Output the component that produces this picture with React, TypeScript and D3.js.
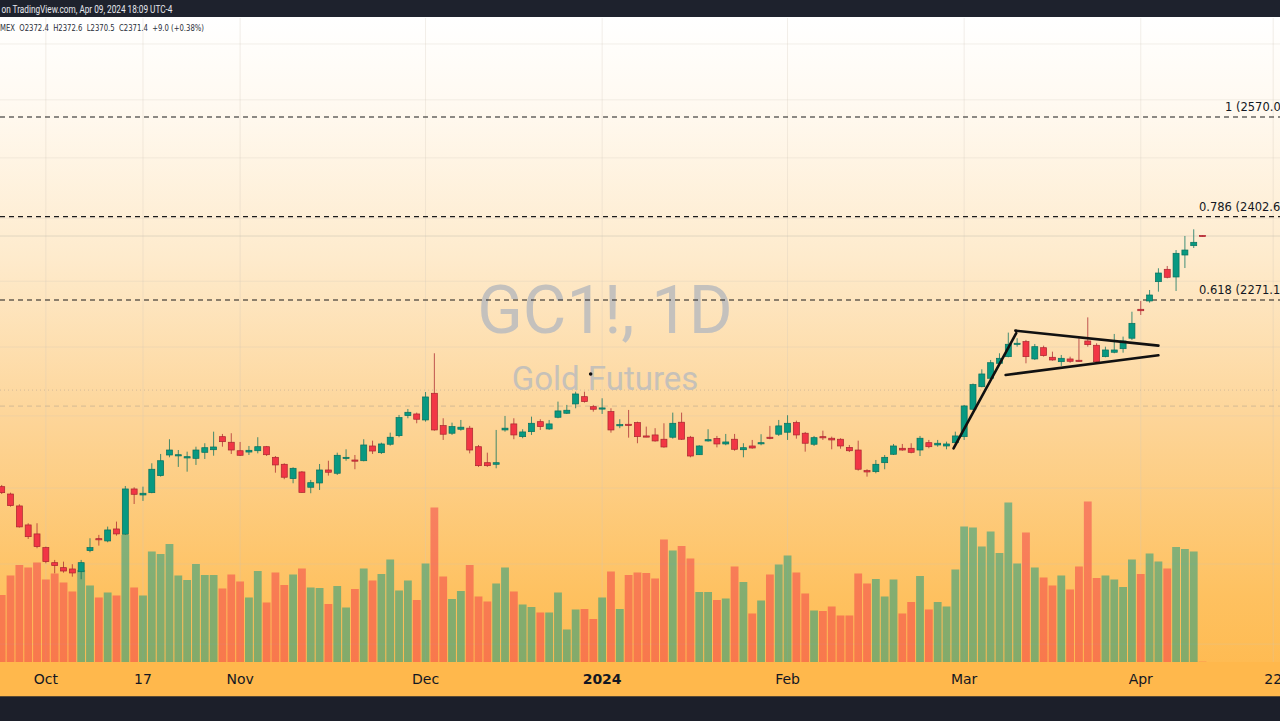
import React from 'react';
import * as d3 from 'd3';

const W = 1280;
const H = 721;

// Daily OHLC, GC1! (bar index 0 = Sep 25 2023 ... 136 = Apr 10 2024)
const opens = [
  2002.0, 1992.1, 1976.1, 1950.9, 1939.1, 1921.2, 1901.8, 1895.4, 1893.7, 1890.2,
  1917.3, 1932.9, 1929.9, 1945.6, 1938.7, 1998.9, 1990.8, 1993.9, 2017.0, 2045.3,
  2044.9, 2041.2, 2040.7, 2049.0, 2052.6, 2070.8, 2063.0, 2051.2, 2049.4, 2051.2,
  2056.8, 2042.1, 2032.5, 2012.9, 2022.0, 2001.2, 2007.0, 2024.7, 2020.2, 2041.2,
  2038.4, 2037.4, 2057.8, 2048.5, 2060.2, 2072.2, 2100.4, 2102.8, 2094.3, 2132.4,
  2086.3, 2075.6, 2081.2, 2082.7, 2056.8, 2034.7, 2032.5, 2080.2, 2088.7, 2070.8,
  2077.8, 2091.9, 2081.6, 2098.1, 2103.8, 2117.1, 2127.5, 2113.2, 2110.4, 2106.1,
  2086.9, 2088.2, 2090.5, 2071.8, 2073.2, 2067.2, 2070.0, 2091.1, 2070.0, 2045.7,
  2064.8, 2068.4, 2060.6, 2067.2, 2052.6, 2057.8, 2061.6, 2070.0, 2074.2, 2077.0,
  2090.5, 2075.6, 2060.2, 2070.8, 2068.6, 2067.2, 2055.7, 2052.2, 2023.8, 2022.4,
  2034.7, 2046.3, 2054.6, 2054.6, 2052.2, 2062.4, 2059.2, 2057.8, 2062.4, 2070.8,
  2109.5, 2141.9, 2154.1, 2176.0, 2185.8, 2204.6, 2208.1, 2182.4, 2199.1, 2184.9,
  2178.4, 2182.4, 2180.5, 2209.1, 2202.7, 2185.8, 2192.3, 2197.6, 2213.2, 2256.9,
  2269.6, 2299.4, 2318.7, 2306.7, 2341.2, 2356.0, 2372.4,
];
const highs = [
  2004.3, 1993.9, 1978.3, 1953.1, 1953.1, 1922.5, 1905.3, 1903.1, 1899.8, 1905.3,
  1933.4, 1937.8, 1948.7, 1955.3, 2002.9, 2001.2, 2002.0, 2033.9, 2046.7, 2067.2,
  2052.2, 2049.9, 2056.8, 2061.6, 2077.8, 2074.6, 2075.6, 2063.4, 2057.8, 2070.0,
  2057.8, 2043.9, 2033.9, 2028.4, 2023.3, 2011.1, 2032.9, 2037.4, 2048.5, 2053.2,
  2045.3, 2067.2, 2065.2, 2062.4, 2076.4, 2101.4, 2109.9, 2104.7, 2134.2, 2190.8,
  2096.7, 2090.5, 2094.3, 2085.9, 2059.2, 2048.5, 2080.2, 2100.0, 2096.7, 2081.2,
  2099.0, 2095.3, 2094.3, 2120.4, 2115.7, 2134.7, 2134.7, 2115.7, 2125.2, 2110.9,
  2095.3, 2108.5, 2091.9, 2084.9, 2082.7, 2089.6, 2104.7, 2104.7, 2071.8, 2058.8,
  2081.2, 2071.8, 2074.6, 2074.6, 2061.6, 2066.2, 2074.2, 2085.9, 2094.3, 2101.0,
  2093.3, 2077.4, 2071.8, 2079.2, 2070.8, 2068.6, 2059.2, 2065.2, 2025.7, 2038.4,
  2045.3, 2060.6, 2060.6, 2061.6, 2071.8, 2066.2, 2066.2, 2063.8, 2077.8, 2115.7,
  2146.5, 2167.2, 2180.9, 2190.8, 2221.6, 2213.2, 2210.6, 2204.6, 2202.1, 2193.2,
  2188.3, 2185.8, 2213.2, 2244.6, 2205.7, 2200.6, 2219.6, 2215.6, 2253.2, 2269.6,
  2286.5, 2320.3, 2323.9, 2349.1, 2371.5, 2382.2, 2372.6,
];
const lows = [
  1992.1, 1975.1, 1947.4, 1932.5, 1920.4, 1901.0, 1888.2, 1889.0, 1883.9, 1880.6,
  1915.2, 1923.8, 1928.2, 1936.8, 1937.8, 1978.7, 1982.8, 1993.1, 2015.6, 2042.1,
  2028.9, 2022.4, 2031.6, 2039.8, 2044.3, 2056.8, 2046.7, 2043.9, 2045.3, 2047.6,
  2043.9, 2021.0, 2012.1, 2006.6, 1993.9, 1993.1, 1997.5, 2017.0, 2017.9, 2037.4,
  2025.7, 2036.6, 2046.7, 2046.7, 2058.2, 2070.0, 2096.7, 2089.6, 2091.9, 2079.2,
  2066.2, 2073.2, 2079.2, 2047.6, 2028.9, 2028.9, 2027.0, 2077.8, 2067.2, 2068.6,
  2073.2, 2080.2, 2080.2, 2096.7, 2102.8, 2110.9, 2119.0, 2106.1, 2102.8, 2076.4,
  2082.7, 2069.4, 2061.6, 2070.0, 2063.8, 2055.4, 2068.0, 2066.2, 2042.1, 2045.3,
  2063.8, 2055.9, 2058.8, 2051.2, 2042.1, 2054.0, 2058.8, 2067.2, 2071.8, 2066.2,
  2068.0, 2049.9, 2057.8, 2066.2, 2053.2, 2054.0, 2049.4, 2023.8, 2015.6, 2020.2,
  2025.7, 2045.3, 2051.2, 2047.6, 2043.9, 2054.6, 2056.8, 2053.2, 2060.6, 2066.2,
  2108.5, 2141.0, 2152.6, 2175.0, 2184.9, 2200.6, 2176.0, 2180.9, 2185.8, 2179.9,
  2172.1, 2176.9, 2178.4, 2200.6, 2176.9, 2184.9, 2190.8, 2191.7, 2210.6, 2248.2,
  2267.0, 2283.9, 2304.6, 2285.0, 2320.7, 2352.3, 2370.5,
];
const closes = [
  1993.9, 1976.5, 1948.3, 1935.5, 1922.5, 1903.1, 1898.0, 1891.1, 1888.6, 1901.8,
  1921.2, 1932.1, 1944.3, 1939.1, 1998.9, 1991.7, 1993.1, 2025.7, 2037.4, 2052.2,
  2045.7, 2043.0, 2052.2, 2055.4, 2056.4, 2063.8, 2052.2, 2044.9, 2051.8, 2056.8,
  2045.7, 2031.6, 2014.8, 2027.0, 1994.2, 2007.4, 2024.7, 2021.6, 2044.9, 2042.1,
  2037.0, 2059.2, 2050.8, 2060.6, 2070.0, 2097.6, 2105.2, 2095.3, 2127.1, 2080.2,
  2074.2, 2084.9, 2084.1, 2052.2, 2030.6, 2030.6, 2034.7, 2082.7, 2073.2, 2077.4,
  2089.6, 2084.9, 2088.7, 2107.1, 2108.1, 2131.4, 2120.4, 2109.5, 2111.4, 2080.2,
  2087.7, 2086.9, 2070.8, 2070.4, 2064.8, 2056.4, 2089.6, 2067.2, 2043.9, 2057.8,
  2066.6, 2060.6, 2063.4, 2053.2, 2055.4, 2055.0, 2062.4, 2068.6, 2085.9, 2089.6,
  2073.2, 2061.6, 2069.4, 2069.4, 2066.2, 2057.8, 2051.2, 2025.7, 2022.0, 2032.5,
  2042.1, 2057.8, 2052.2, 2049.0, 2068.6, 2056.8, 2061.6, 2060.6, 2071.8, 2114.2,
  2144.9, 2160.4, 2176.9, 2183.4, 2204.2, 2205.7, 2185.8, 2200.6, 2187.3, 2180.9,
  2183.4, 2179.0, 2179.4, 2203.6, 2178.4, 2195.7, 2195.7, 2209.1, 2235.6, 2254.7,
  2278.8, 2312.9, 2306.2, 2343.9, 2349.1, 2361.4, 2371.4,
];
// Volume, thousands of contracts
const volumes = [
  134, 173, 194, 189, 199, 165, 177, 159, 141, 184,
  153, 129, 139, 133, 254, 149, 133, 221, 216, 236,
  173, 164, 196, 174, 174, 147, 175, 161, 129, 182,
  119, 179, 154, 175, 187, 149, 148, 116, 152, 109,
  146, 187, 163, 176, 205, 143, 163, 124, 197, 309,
  171, 126, 142, 194, 131, 121, 157, 189, 141, 115,
  110, 99, 99, 139, 65, 105, 106, 86, 129, 181,
  106, 174, 179, 178, 167, 245, 223, 232, 207, 140,
  140, 124, 127, 191, 160, 97, 123, 175, 195, 213,
  179, 137, 103, 102, 111, 93, 93, 177, 157, 166,
  131, 165, 97, 120, 172, 105, 120, 111, 185, 271,
  269, 231, 261, 218, 319, 197, 259, 189, 169, 153,
  173, 145, 191, 321, 168, 173, 165, 150, 205, 176,
  217, 201, 187, 230, 226, 221, 0.5,
];

// Time axis
const tickLabels = ['Oct', '17', 'Nov', 'Dec', '2024', 'Feb', 'Mar', 'Apr', '22'];
const tickIndex = [5, 16, 27, 48, 68, 89, 109, 129, 144];
const tickBold = [false, false, false, false, true, false, false, false, false];

// Fibonacci levels
const fibRatios = ['1', '0.786', '0.618'];
const fibPrices = [2570.0, 2402.6, 2271.1];

// Price grid and user horizontal levels
const gridPrices = [2700, 2600, 2500, 2400, 2300, 2200, 2100, 2000, 1900, 1800];
const dottedLevel = 2137.0;
const dashedLevel = 2114.0;
const lastPrice = 2371.4;

// Trend lines (bar index, price)
const poleLine = [107.8, 2054.6, 114.9, 2220.7];
const flagTop = [114.8, 2224.6, 131.0, 2202.1];
const flagBottom = [113.7, 2158.9, 131.0, 2187.8];
const cursorDot = [66.7, 2160.4];

const headerTop = 'on TradingView.com, Apr 09, 2024 18:09 UTC-4';
const headerOhlc = 'MEX  O2372.4  H2372.6  L2370.5  C2371.4  +9.0 (+0.38%)';

const GREEN = '#089981';
const RED = '#f23645';

export default function App() {
  const x = d3.scaleLinear().domain([0, 144]).range([1.7, 1273.2]);
  const y = d3.scaleLog().domain([2570, 2271.1]).range([117, 300]);
  const v = d3.scaleLinear().domain([0, 320]).range([662, 502]);

  const plotTop = 18;
  const plotBottom = 662;
  const axisBottom = 697;

  const idx = d3.range(opens.length);
  const up = (i: number) => closes[i] >= opens[i];

  const line = (seg: number[]) => (
    <line x1={x(seg[0])} y1={y(seg[1])} x2={x(seg[2])} y2={y(seg[3])}
      stroke="#111" strokeWidth={2.6} strokeLinecap="round" />
  );

  return (
    <svg width={W} height={H} style={{ position: 'fixed', left: 0, top: 0, display: 'block' }}
      xmlns="http://www.w3.org/2000/svg">
      <defs>
        <linearGradient id="bg" x1="0" y1={plotTop} x2="0" y2={axisBottom} gradientUnits="userSpaceOnUse">
          <stop offset="0" stopColor="#ffffff" />
          <stop offset="0.12" stopColor="#fffaf2" />
          <stop offset="0.35" stopColor="#feebcd" />
          <stop offset="0.6" stopColor="#fdd496" />
          <stop offset="0.85" stopColor="#fec160" />
          <stop offset="1" stopColor="#ffb84c" />
        </linearGradient>
        <clipPath id="plot">
          <rect x={0} y={plotTop} width={W} height={plotBottom - plotTop} />
        </clipPath>
      </defs>

      <rect x={0} y={0} width={W} height={H} fill="url(#bg)" />
      <rect x={0} y={plotBottom} width={W} height={axisBottom - plotBottom} fill="#ffb84c" />

      <g clipPath="url(#plot)">
        {/* grid */}
        {gridPrices.map((p, k) => (
          <line key={'g' + k} x1={0} x2={W} y1={y(p)} y2={y(p)} stroke="#cfc7bb" strokeOpacity={0.25} strokeWidth={1} />
        ))}
        {tickIndex.map((t, k) => (
          <line key={'vg' + k} x1={x(t)} x2={x(t)} y1={plotTop} y2={plotBottom} stroke="#cfc7bb" strokeOpacity={0.3} strokeWidth={1} />
        ))}
        <line x1={0} x2={W} y1={y(dottedLevel)} y2={y(dottedLevel)} stroke="#b9a890" strokeOpacity={0.6} strokeDasharray="1 3" />
        <line x1={0} x2={W} y1={y(dashedLevel)} y2={y(dashedLevel)} stroke="#b9a890" strokeOpacity={0.6} strokeDasharray="5 4" />
        <line x1={0} x2={W} y1={y(lastPrice)} y2={y(lastPrice)} stroke="#c8bfb2" strokeOpacity={0.5} strokeWidth={1} />

        {/* watermark */}
        <text x={605} y={333} textAnchor="middle" fontFamily="Roboto" fontSize={67} fill="#c4c1bd">GC1!, 1D</text>
        <text x={605} y={390} textAnchor="middle" fontFamily="Roboto" fontSize={33} fill="#c6c1b9">Gold Futures</text>

        {/* volume */}
        {idx.map((i) => (
          <rect key={'v' + i} x={x(i) - 3.9} width={7.8} y={v(volumes[i])} height={plotBottom - v(volumes[i])}
            fill={up(i) ? GREEN : RED} fillOpacity={0.5} />
        ))}

        {/* fib levels */}
        {fibPrices.map((p, k) => (
          <line key={'f' + k} x1={0} x2={W} y1={y(p)} y2={y(p)} stroke="#1b1b1b" strokeWidth={1.2} strokeDasharray="5 4" />
        ))}

        {/* candles */}
        {idx.map((i) => {
          const o = opens[i], c = closes[i];
          const yTop = y(Math.max(o, c));
          const yBot = y(Math.min(o, c));
          const col = up(i) ? GREEN : RED;
          const dark = up(i) ? '#06705e' : '#a9262f';
          return (
            <g key={'c' + i}>
              <line x1={x(i)} x2={x(i)} y1={y(highs[i])} y2={y(lows[i])} stroke={dark} strokeOpacity={0.75} strokeWidth={1} />
              <rect x={x(i) - 3} width={6} y={yTop} height={Math.max(1.2, yBot - yTop)} fill={col} stroke={dark} strokeWidth={0.7} />
            </g>
          );
        })}

        {/* drawings */}
        {line(poleLine)}
        {line(flagTop)}
        {line(flagBottom)}
        <circle cx={x(cursorDot[0])} cy={y(cursorDot[1])} r={1.8} fill="#111" />
      </g>

      {/* fib labels (cut at the right edge as in the reference) */}
      <text x={1225} y={y(fibPrices[0]) - 6} fontFamily="DejaVu Sans" fontSize={11.5} fill="#131722">{fibRatios[0]} ({fibPrices[0].toFixed(1)})</text>
      <text x={1199} y={y(fibPrices[1]) - 6} fontFamily="DejaVu Sans" fontSize={11.5} fill="#131722">{fibRatios[1]} ({fibPrices[1].toFixed(1)})</text>
      <text x={1199} y={y(fibPrices[2]) - 6} fontFamily="DejaVu Sans" fontSize={11.5} fill="#131722">{fibRatios[2]} ({fibPrices[2].toFixed(1)})</text>

      {/* time axis */}
      {tickLabels.map((t, k) => (
        <text key={'t' + k} x={x(tickIndex[k])} y={684} textAnchor="middle" fontFamily="DejaVu Sans"
          fontSize={14} fontWeight={tickBold[k] ? 'bold' : 'normal'} fill="#131722">{t}</text>
      ))}

      {/* top header */}
      <rect x={0} y={0} width={W} height={17} fill="#1e222d" />
      <text x={1.5} y={12.5} fontFamily="Roboto" fontSize={10} fill="#e6e8ee" textLength={171} lengthAdjust="spacingAndGlyphs">{headerTop}</text>
      <text x={0} y={31} fontFamily="DejaVu Sans" fontSize={8.5} fill="#2a2e39" textLength={204} lengthAdjust="spacingAndGlyphs" xmlSpace="preserve">{headerOhlc}</text>

      {/* bottom bar */}
      <rect x={0} y={axisBottom - 1} width={W} height={1.5} fill="#5a4a33" />
      <rect x={0} y={axisBottom} width={W} height={H - axisBottom} fill="#1c1f2a" />
    </svg>
  );
}
